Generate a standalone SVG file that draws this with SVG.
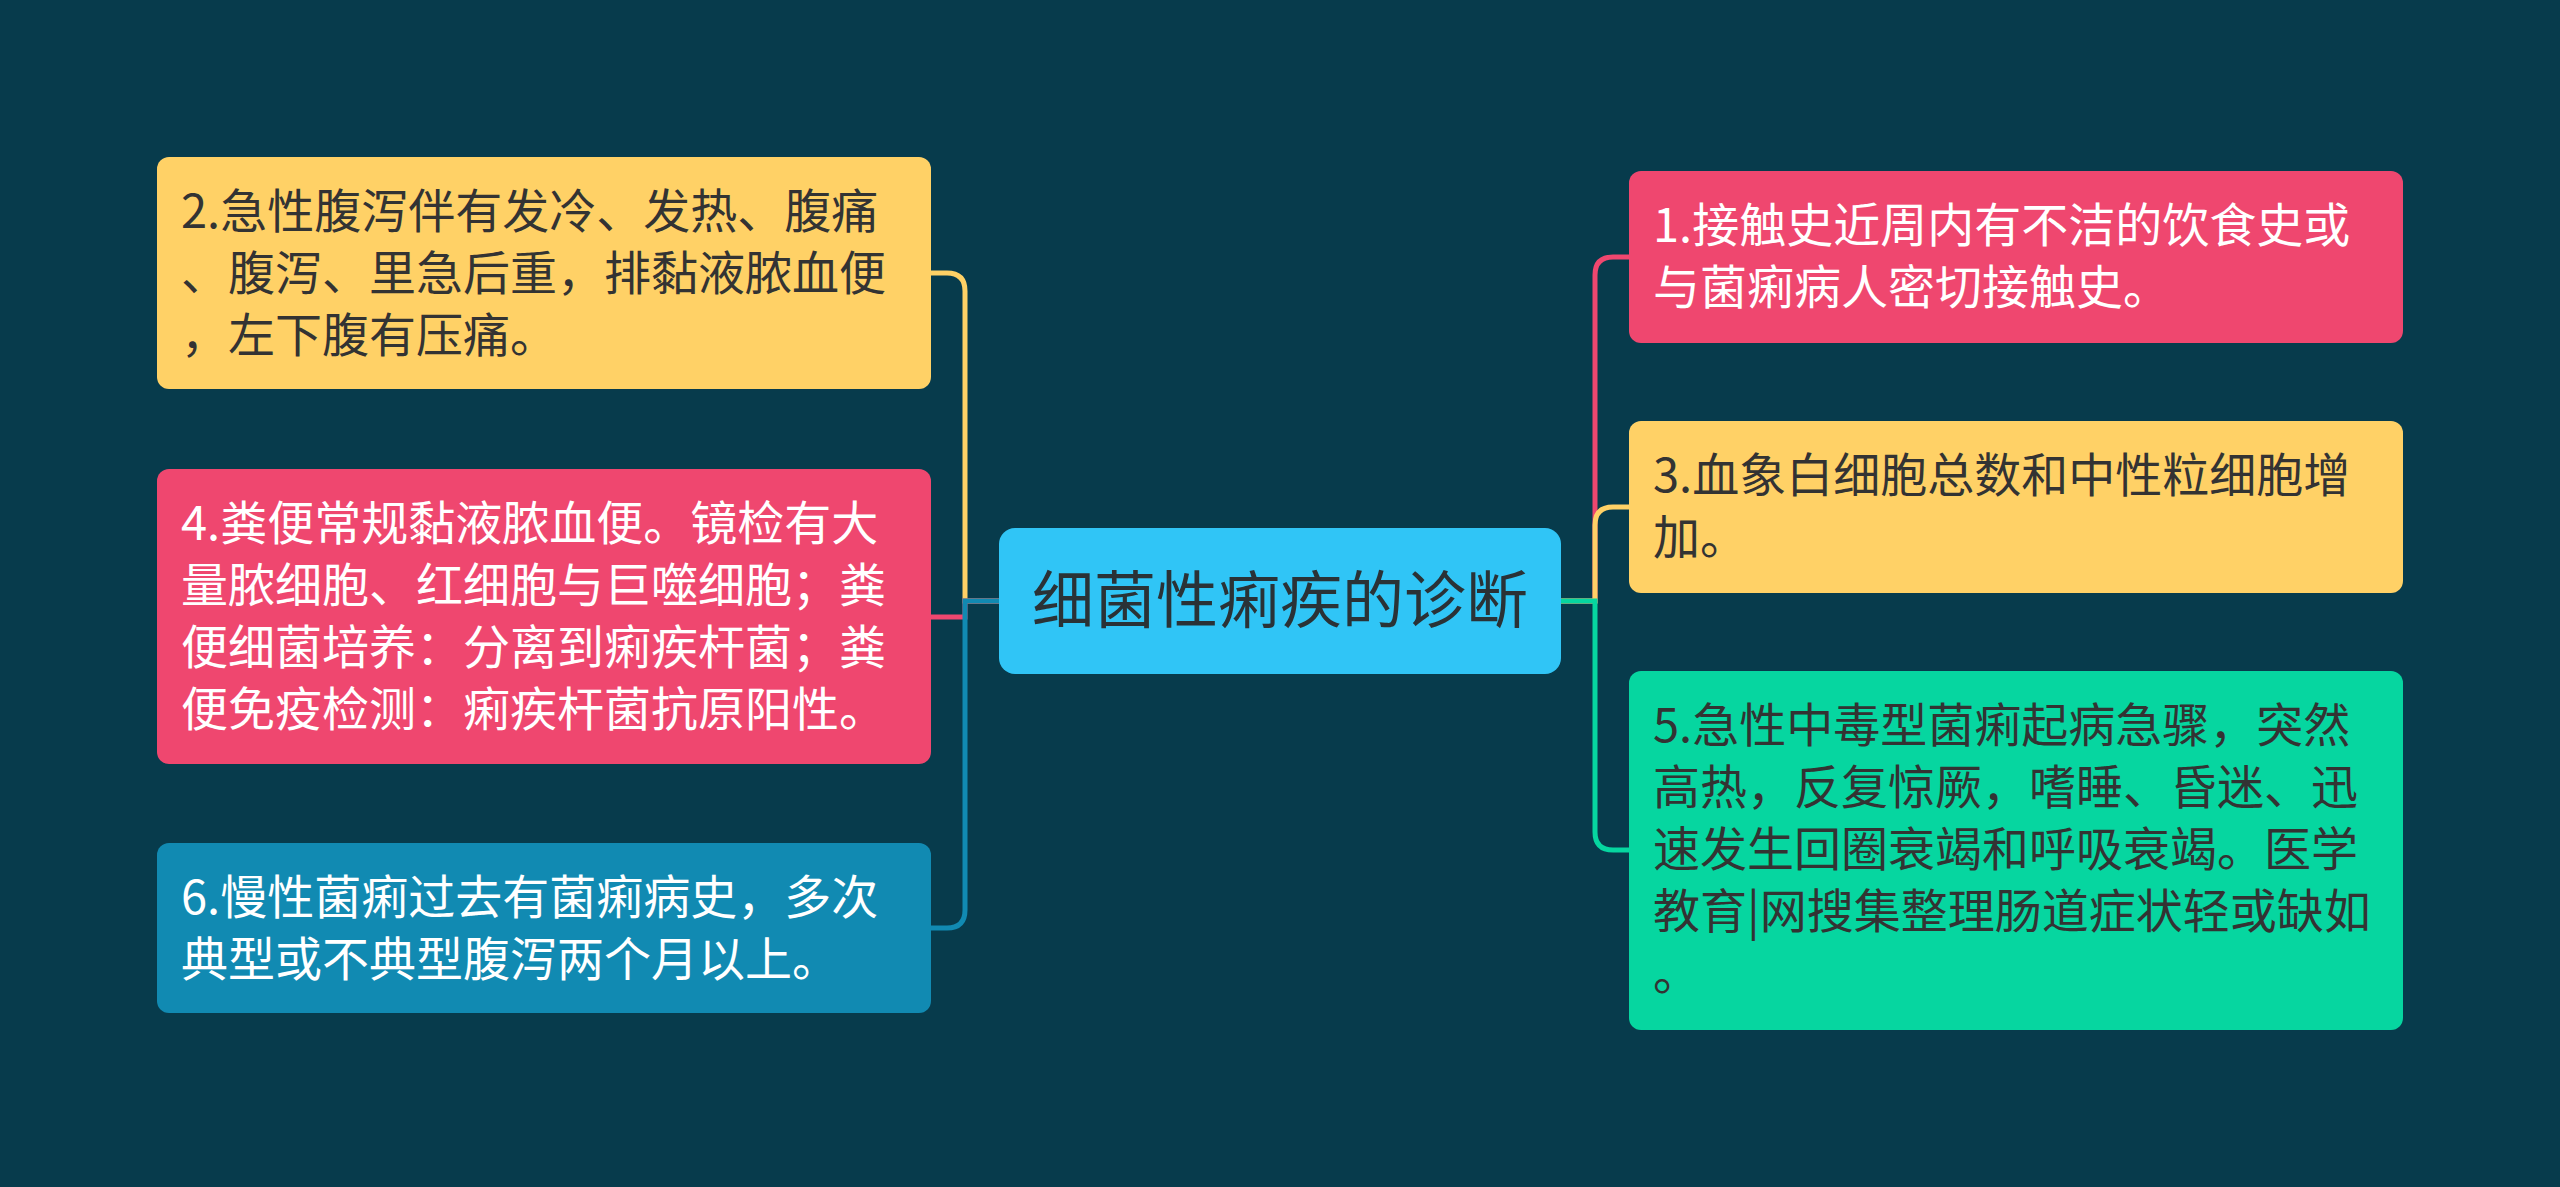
<svg xmlns="http://www.w3.org/2000/svg" width="2560" height="1187" viewBox="0 0 2560 1187">
<style>
.t{font-family:"Noto Sans CJK SC","Noto Sans",sans-serif;font-size:47px}
.c{font-family:"Noto Sans CJK SC","Noto Sans",sans-serif;font-size:62px;fill:#2a3236}
.dk{fill:#333333}
.wh{fill:#ffffff}
.ln{fill:none;stroke-width:5}
</style>
<rect x="0" y="0" width="2560" height="1187" fill="#073B4C"/>
<g id="connectors">
<path class="ln" stroke="#FFD166" d="M999 601 H965 V291 Q965 273 947 273 H931"/>
<path class="ln" stroke="#EF476F" d="M999 601 H965 V617 H931"/>
<path class="ln" stroke="#118AB2" d="M999 601 H965 V910 Q965 928 947 928 H931"/>
<path class="ln" stroke="#EF476F" d="M1561 601 H1595 V275 Q1595 257 1613 257 H1629"/>
<path class="ln" stroke="#FFD166" d="M1561 601 H1595 V525 Q1595 507 1613 507 H1629"/>
<path class="ln" stroke="#06D6A0" d="M1561 601 H1595 V832 Q1595 850 1613 850 H1629"/>
</g>
<g id="center">
<rect x="999" y="528" width="562" height="146" rx="16" fill="#30C5F6"/>
<text class="c" x="1280" y="623" text-anchor="middle">细菌性痢疾的诊断</text>
</g>
<g id="node2">
<rect x="157" y="157" width="774" height="232" rx="12" fill="#FFD166"/>
<text class="t dk" x="181"><tspan x="181" y="228">2.急性腹泻伴有发冷、发热、腹痛</tspan><tspan x="181" y="290">、腹泻、里急后重，排黏液脓血便</tspan><tspan x="181" y="352">，左下腹有压痛。</tspan></text>
</g>
<g id="node4">
<rect x="157" y="469" width="774" height="295" rx="12" fill="#EF476F"/>
<text class="t wh" x="181"><tspan x="181" y="540">4.粪便常规黏液脓血便。镜检有大</tspan><tspan x="181" y="602">量脓细胞、红细胞与巨噬细胞；粪</tspan><tspan x="181" y="664">便细菌培养：分离到痢疾杆菌；粪</tspan><tspan x="181" y="726">便免疫检测：痢疾杆菌抗原阳性。</tspan></text>
</g>
<g id="node6">
<rect x="157" y="843" width="774" height="170" rx="12" fill="#118AB2"/>
<text class="t wh" x="181"><tspan x="181" y="914">6.慢性菌痢过去有菌痢病史，多次</tspan><tspan x="181" y="976">典型或不典型腹泻两个月以上。</tspan></text>
</g>
<g id="node1">
<rect x="1629" y="171" width="774" height="172" rx="12" fill="#EF476F"/>
<text class="t wh" x="1653"><tspan x="1653" y="242">1.接触史近周内有不洁的饮食史或</tspan><tspan x="1653" y="304">与菌痢病人密切接触史。</tspan></text>
</g>
<g id="node3">
<rect x="1629" y="421" width="774" height="172" rx="12" fill="#FFD166"/>
<text class="t dk" x="1653"><tspan x="1653" y="492">3.血象白细胞总数和中性粒细胞增</tspan><tspan x="1653" y="554">加。</tspan></text>
</g>
<g id="node5">
<rect x="1629" y="671" width="774" height="359" rx="12" fill="#06D6A0"/>
<text class="t dk" x="1653"><tspan x="1653" y="742">5.急性中毒型菌痢起病急骤，突然</tspan><tspan x="1653" y="804">高热，反复惊厥，嗜睡、昏迷、迅</tspan><tspan x="1653" y="866">速发生回圈衰竭和呼吸衰竭。医学</tspan><tspan x="1653" y="928">教育|网搜集整理肠道症状轻或缺如</tspan><tspan x="1653" y="990">。</tspan></text>
</g>
</svg>
